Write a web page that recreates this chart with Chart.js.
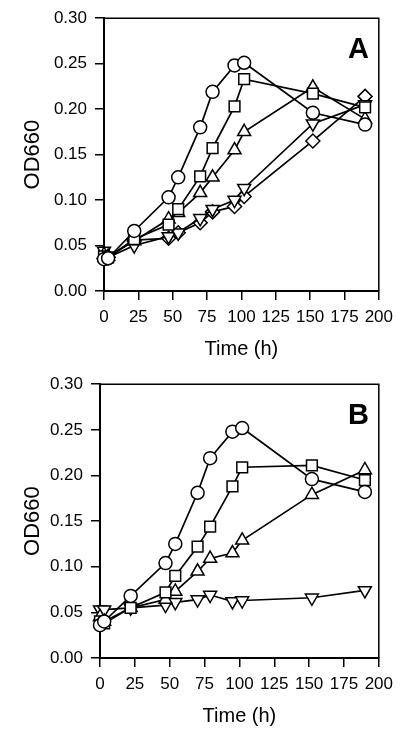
<!DOCTYPE html>
<html>
<head>
<meta charset="utf-8">
<script src="https://cdn.jsdelivr.net/npm/chart.js@4.4.1/dist/chart.umd.min.js"></script>
<style>
  html, body { margin: 0; padding: 0; background: #fff; }
  body { width: 400px; height: 733px; position: relative; overflow: hidden; }
  .panel { position: absolute; left: 0; width: 400px; }
  #wa { top: 0; height: 366px; }
  #wb { top: 366px; height: 367px; }
</style>
</head>
<body>
<div class="panel" id="wa"><canvas id="ca"></canvas></div>
<div class="panel" id="wb"><canvas id="cb"></canvas></div>
<script>
// Sampling times (h)
const times = [0, 3, 22, 47, 54, 70, 79, 95, 102, 152, 190];
const xTicks = [0, 25, 50, 75, 100, 125, 150, 175, 200];
const yTicks = [0.00, 0.05, 0.10, 0.15, 0.20, 0.25, 0.30];

// Panel A series (OD660)
const aCircle   = [0.035, 0.036, 0.066, 0.103, 0.125, 0.180, 0.219, 0.248, 0.251, 0.196, 0.183];
const aSquare   = [0.038, 0.037, 0.057, 0.073, 0.090, 0.126, 0.157, 0.203, 0.233, 0.217, 0.202];
const aTriUp    = [0.040, 0.038, 0.055, 0.079, 0.086, 0.108, 0.125, 0.155, 0.175, 0.224, 0.189];
const aTriDown  = [0.044, 0.037, 0.050, 0.060, 0.064, 0.080, 0.090, 0.100, 0.113, 0.184, 0.205];
const aDiamond  = [0.036, 0.037, 0.056, 0.058, 0.064, 0.075, 0.087, 0.093, 0.104, 0.165, 0.214];

// Panel B series (OD660)
const bCircle   = [0.036, 0.040, 0.068, 0.104, 0.125, 0.181, 0.219, 0.248, 0.252, 0.196, 0.182];
const bSquare   = [0.040, 0.038, 0.055, 0.072, 0.090, 0.122, 0.144, 0.188, 0.209, 0.211, 0.195];
const bTriUp    = [0.045, 0.040, 0.055, 0.064, 0.073, 0.095, 0.109, 0.115, 0.129, 0.179, 0.206];
const bTriDown  = [0.053, 0.053, 0.055, 0.058, 0.061, 0.064, 0.069, 0.062, 0.063, 0.066, 0.074];

const FONT = "'Liberation Sans', Arial, Helvetica, sans-serif";

function pts(vals) { return vals.map((v, i) => ({ x: times[i], y: v })); }

function ds(vals, style, radius, rotation) {
  return {
    data: pts(vals),
    borderColor: '#000',
    borderWidth: 1.7,
    pointStyle: style,
    pointRadius: radius,
    pointRotation: rotation || 0,
    pointBackgroundColor: '#fff',
    pointBorderColor: '#000',
    pointBorderWidth: 1.5,
    pointHoverRadius: radius,
    tension: 0,
    clip: false,
    fill: false
  };
}

const framePlugin = {
  id: 'frame',
  afterDraw(chart, args, opts) {
    const { ctx, chartArea: a } = chart;
    ctx.save();
    ctx.strokeStyle = '#000';
    ctx.lineWidth = 1.5;
    ctx.beginPath();
    ctx.moveTo(a.left, a.top);
    ctx.lineTo(a.right, a.top);
    ctx.lineTo(a.right, a.bottom);
    ctx.stroke();
    ctx.font = 'bold 29px ' + FONT;
    ctx.fillStyle = '#000';
    ctx.textAlign = 'right';
    ctx.textBaseline = 'alphabetic';
    ctx.fillText(opts.letter, a.right - 10, a.top + 40);
    ctx.restore();
  }
};

function makeChart(id, datasets, letter, left, right, top, bottom, H) {
  return new Chart(document.getElementById(id), {
    type: 'line',
    data: { datasets },
    plugins: [framePlugin],
    options: {
      responsive: true,
      maintainAspectRatio: false,
      animation: false,
      events: [],
      layout: { padding: { left: 0, right: 400 - right, top: top, bottom: 0 } },
      plugins: { legend: { display: false }, tooltip: { enabled: false }, frame: { letter } },
      scales: {
        x: {
          type: 'linear',
          min: 0, max: 200,
          afterBuildTicks: s => { s.ticks = xTicks.map(v => ({ value: v })); },
          afterFit: s => { s.height = H - bottom; },
          ticks: { color: '#000', font: { family: FONT, size: 17 }, padding: 7, maxRotation: 0, autoSkip: false },
          grid: { display: true, drawOnChartArea: false, drawTicks: true, tickLength: 9, color: '#000', lineWidth: 1.5 },
          border: { display: true, color: '#000', width: 2 },
          title: { display: true, text: 'Time (h)', color: '#000', font: { family: FONT, size: 20 }, padding: { top: 0, bottom: 5 } }
        },
        y: {
          type: 'linear',
          min: 0, max: 0.30,
          afterBuildTicks: s => { s.ticks = yTicks.map(v => ({ value: v })); },
          afterFit: s => { s.width = left; },
          ticks: { color: '#000', font: { family: FONT, size: 17 }, padding: 8, callback: v => Number(v).toFixed(2), autoSkip: false },
          grid: { display: true, drawOnChartArea: false, drawTicks: true, tickLength: 9, color: '#000', lineWidth: 1.5 },
          border: { display: true, color: '#000', width: 2 },
          title: { display: true, text: 'OD660', color: '#000', font: { family: FONT, size: 22 }, padding: { top: 20, bottom: 0 } }
        }
      }
    }
  });
}

makeChart('ca', [
  ds(aCircle, 'circle', 6.5),
  ds(aSquare, 'rect', 7.6),
  ds(aTriUp, 'triangle', 7.5),
  ds(aTriDown, 'triangle', 7.5, 180),
  ds(aDiamond, 'rectRot', 7)
], 'A', 104, 383, 13, 291, 366);

makeChart('cb', [
  ds(bCircle, 'circle', 6.5),
  ds(bSquare, 'rect', 7.6),
  ds(bTriUp, 'triangle', 7.5),
  ds(bTriDown, 'triangle', 7.5, 180)
], 'B', 100, 379, 13, 292, 367);
</script>
</body>
</html>
